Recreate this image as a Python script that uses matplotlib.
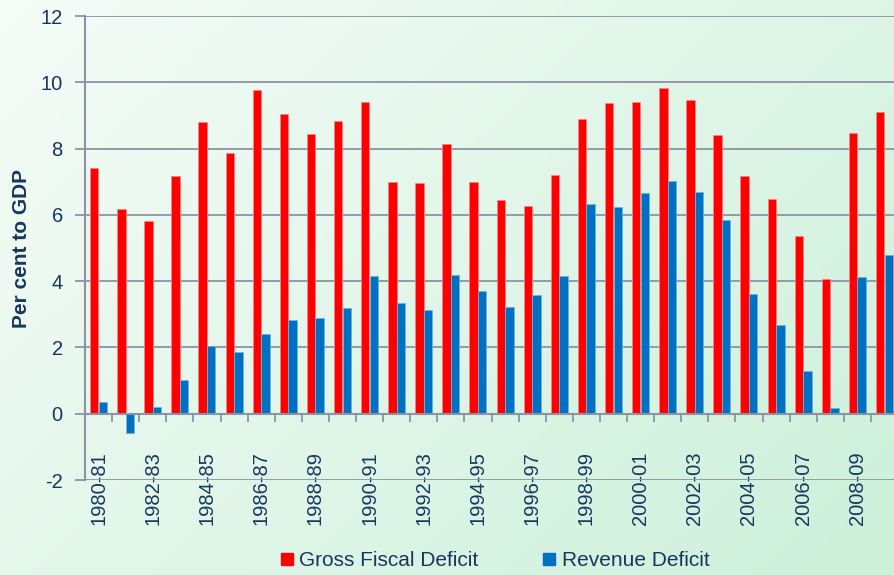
import numpy as np
import matplotlib
matplotlib.use('Agg')
import matplotlib.pyplot as plt
from matplotlib.lines import Line2D

## ------------------------------- DATA --------------------------------##
years = ['1980-81', '1981-82', '1982-83', '1983-84', '1984-85', '1985-86',
         '1986-87', '1987-88', '1988-89', '1989-90', '1990-91', '1991-92',
         '1992-93', '1993-94', '1994-95', '1995-96', '1996-97', '1997-98',
         '1998-99', '1999-00', '2000-01', '2001-02', '2002-03', '2003-04',
         '2004-05', '2005-06', '2006-07', '2007-08', '2008-09', '2009-10']
gross_fiscal_deficit = [7.40, 6.18, 5.80, 7.16, 8.80, 7.86, 9.76, 9.04, 8.44, 8.83,
                        9.40, 6.99, 6.95, 8.15, 6.99, 6.44, 6.26, 7.19, 8.90, 9.37,
                        9.42, 9.84, 9.47, 8.40, 7.18, 6.47, 5.36, 4.07, 8.47, 9.10]
revenue_deficit = [0.36, -0.59, 0.21, 1.03, 2.04, 1.86, 2.40, 2.83, 2.88, 3.19,
                   4.16, 3.33, 3.13, 4.20, 3.70, 3.21, 3.57, 4.17, 6.34, 6.24,
                   6.66, 7.02, 6.70, 5.84, 3.61, 2.67, 1.28, 0.17, 4.12, 4.79]
y_ticks = [-2, 0, 2, 4, 6, 8, 10, 12]

## ------------------------------- STYLE --------------------------------##
plt.rcParams['font.family'] = ['Liberation Sans', 'DejaVu Sans']
text_col = '#17375E'
grid_col = '#8C93A5'
red = '#FF0000'
blue = '#0070C0'

fig = plt.figure(figsize=(8.94, 5.75), dpi=100)

## gradient background (white-ish top-left to pale green bottom-right)
bg = fig.add_axes([0, 0, 1, 1], zorder=-10)
gx, gy = np.meshgrid(np.linspace(0, 1, 200), np.linspace(0, 1, 200))
t = (gx * 0.6 + gy * 0.4)
c0 = np.array([246, 252, 248]) / 255
c1 = np.array([204, 240, 218]) / 255
img = c0[None, None, :] * (1 - t[..., None]) + c1[None, None, :] * t[..., None]
bg.imshow(img, aspect='auto', extent=[0, 1, 0, 1])
bg.axis('off')

## main axes, right edge runs slightly past the figure
ax = fig.add_axes([85/894, 1 - 480/575, (898 - 85)/894, (480 - 16)/575])
ax.patch.set_alpha(0)

x = np.arange(len(years))
w = 0.31
ax.bar(x - 0.16, gross_fiscal_deficit, w, color=red, edgecolor='#FF8080',
       linewidth=0.6, zorder=3)
ax.bar(x + 0.16, revenue_deficit, w, color=blue, edgecolor='#6FB0E0',
       linewidth=0.6, zorder=3)

ax.set_xlim(-0.5, len(years) - 0.5)
ax.set_ylim(-2, 12)
ax.set_yticks(y_ticks)
ax.set_yticklabels([str(v) for v in y_ticks], fontsize=14.5, color=text_col)
ax.yaxis.grid(True, color=grid_col, lw=1.3, zorder=0)
ax.tick_params(axis='y', length=7, width=1.3, color=grid_col, pad=9)

for s in ['top', 'right']:
    ax.spines[s].set_visible(False)
ax.spines['left'].set_color(grid_col)
ax.spines['left'].set_linewidth(1.5)
ax.spines['bottom'].set_position(('data', 0))
ax.spines['bottom'].set_color(grid_col)
ax.spines['bottom'].set_linewidth(1.5)
ax.spines['bottom'].set_zorder(4)

## category boundary ticks (major) and labels every other year (minor)
ax.set_xticks(x[1:] - 0.5)
ax.set_xticklabels([])
ax.tick_params(axis='x', which='major', length=6, width=1.3, color=grid_col)
ax.set_xticks(x[::2], minor=True)
ax.set_xticklabels(years[::2], minor=True, rotation=90, fontsize=14.5,
                   color=text_col, va='top', ha='center')
ax.tick_params(axis='x', which='minor', length=0, pad=27)

fig.text(22/894, 1 - 248/575, 'Per cent to GDP', rotation=90, fontsize=15,
         fontweight='bold', color=text_col, ha='center', va='center')

handles = [Line2D([], [], marker='s', ls='', color=red, markersize=8.5),
           Line2D([], [], marker='s', ls='', color=blue, markersize=8.5)]
fig.legend(handles, ['Gross Fiscal Deficit', 'Revenue Deficit'],
           loc='center', bbox_to_anchor=(493/894, 1 - 561/575), ncol=2,
           frameon=False, fontsize=15, labelcolor=text_col,
           handletextpad=0.1, columnspacing=2.9, handlelength=1.0)

fig.savefig('out.png', dpi=100)
